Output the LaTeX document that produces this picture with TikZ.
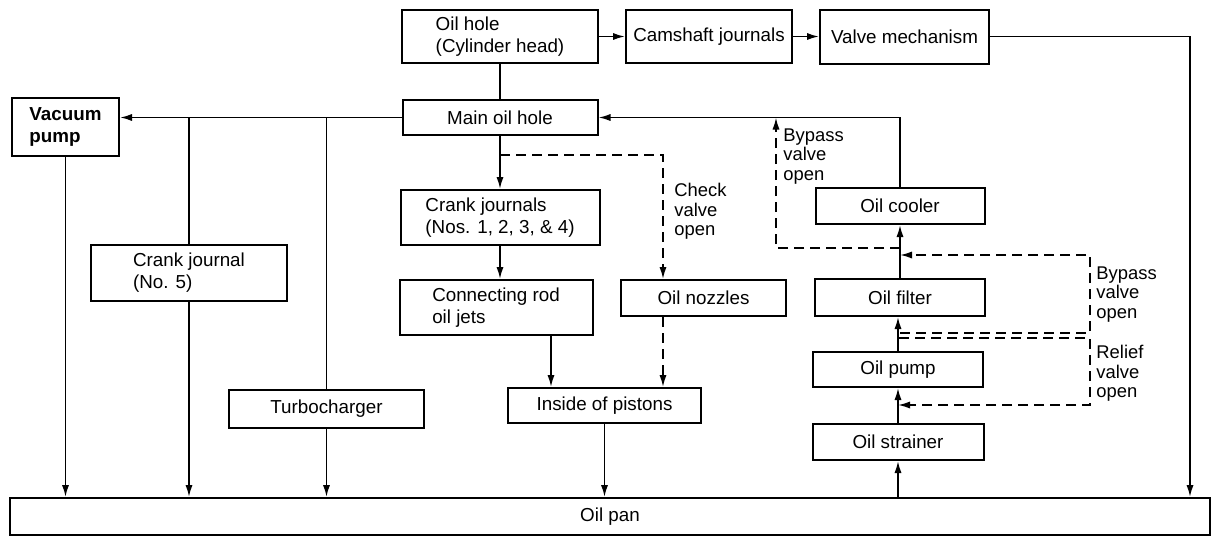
\documentclass[tikz,border=0pt]{standalone}
\usepackage{fontspec}
\setmainfont{Liberation Sans}
\usetikzlibrary{arrows.meta}

\begin{document}
\begin{tikzpicture}[x=0.5pt,y=-0.5pt,
  box/.style={draw,line width=1pt,inner sep=2pt,align=left,font=\fontsize{9.4}{11}\selectfont},
  pipe/.style={line width=0.9pt},
  flow/.style={pipe,-{Latex[length=6pt,width=3.6pt]}},
  dflow/.style={flow,dash pattern=on 5pt off 3pt},
  note/.style={anchor=north west,inner sep=0pt,align=left,font=\fontsize{9.2}{9.8}\selectfont}]
  \useasboundingbox (0,0) rectangle (1215,538);

  \node[box,minimum width=98pt,minimum height=26.5pt] (ohole) at (500,36.5) {Oil hole\\(Cylinder head)};
  \node[box,minimum width=83pt,minimum height=26.5pt] (cam) at (709,36.5) {Camshaft journals};
  \node[box,minimum width=84.5pt,minimum height=27pt] (valve) at (904.5,36.5) {Valve mechanism};
  \node[box,minimum width=97.5pt,minimum height=17.5pt] (main) at (500,117.5) {Main oil hole};
  \node[box,minimum width=53.5pt,minimum height=29pt,font=\fontsize{9.4}{11}\selectfont\bfseries] (vac) at (65.5,127) {Vacuum\\pump};
  \node[box,minimum width=99.5pt,minimum height=27.5pt] (cj) at (500,217.5) {Crank journals\\(Nos. 1, 2, 3, \& 4)};
  \node[box,minimum width=98pt,minimum height=28pt] (cj5) at (189,273) {Crank journal\\(No. 5)};
  \node[box,minimum width=97.5pt,minimum height=19pt] (turbo) at (326.5,409) {Turbocharger};
  \node[box,minimum width=96.5pt,minimum height=27.5pt] (rod) at (496,307.5) {Connecting rod\\oil jets};
  \node[box,minimum width=82.5pt,minimum height=18pt] (noz) at (703.5,298) {Oil nozzles};
  \node[box,minimum width=96.5pt,minimum height=17.5pt] (pist) at (604.5,405.5) {Inside of pistons};
  \node[box,minimum width=84.5pt,minimum height=18pt] (cool) at (900,206) {Oil cooler};
  \node[box,minimum width=85pt,minimum height=18.5pt] (filt) at (900,297.5) {Oil filter};
  \node[box,minimum width=85pt,minimum height=17.5pt] (pump) at (898,369.5) {Oil pump};
  \node[box,minimum width=85.5pt,minimum height=18pt] (strn) at (898,442) {Oil strainer};
  \node[box,minimum width=600pt,minimum height=18.5pt] (pan) at (610,516.5) {Oil pan};

  \coordinate (jc) at (500,155);
  \coordinate (cvx) at (663,0);
  \coordinate (px) at (551,0);
  \coordinate (rx) at (1190,0);
  \coordinate (b1) at (900,248);
  \coordinate (b1x) at (776,0);
  \coordinate (vx) at (1090,0);
  \coordinate (b2a) at (900,333);
  \coordinate (b2b) at (900,255);
  \coordinate (r1) at (899,338);
  \coordinate (r2) at (898,405);

  \draw[flow] (ohole) -- (cam);
  \draw[flow] (cam) -- (valve);
  \draw[flow] (valve.east) -| (pan.north -| rx);
  \draw[pipe] (ohole) -- (main);
  \draw[flow] (main.west) -- (main.west -| vac.east);
  \draw[pipe] (main.west -| cj5.north) -- (cj5.north);
  \draw[pipe] (main.west -| turbo.north) -- (turbo.north);
  \draw[flow] (vac) -- (vac.south |- pan.north);
  \draw[flow] (cj5) -- (cj5.south |- pan.north);
  \draw[flow] (turbo) -- (turbo.south |- pan.north);
  \draw[flow] (main) -- (cj);
  \draw[dflow] (jc) -| (cvx |- noz.north);
  \draw[flow] (cj.south) -- (cj.south |- rod.north);
  \draw[flow] (rod.south -| px) -- (pist.north -| px);
  \draw[dflow] (noz.south -| cvx) -- (pist.north -| cvx);
  \draw[flow] (pist) -- (pist.south |- pan.north);
  \draw[flow] (strn.south |- pan.north) -- (strn);
  \draw[flow] (strn) -- (pump);
  \draw[flow] (pump) -- (pump.north |- filt.south);
  \draw[flow] (filt) -- (cool);
  \draw[flow] (cool.north) |- (main.east);
  \draw[dflow] (b1) -| (b1x |- main.east);
  \draw[dflow] (b2a) -| (vx |- b2b) -- (b2b);
  \draw[dflow] (r1) -| (vx |- r2) -- (r2);

  \node[note] (cvl) at (674,183) {Check\\valve\\open};
  \node[note] (bpl1) at (783,128) {Bypass\\valve\\open};
  \node[note] (bpl2) at (1096,266) {Bypass\\valve\\open};
  \node[note] (rvl) at (1096,345) {Relief\\valve\\open};
\end{tikzpicture}
\end{document}
